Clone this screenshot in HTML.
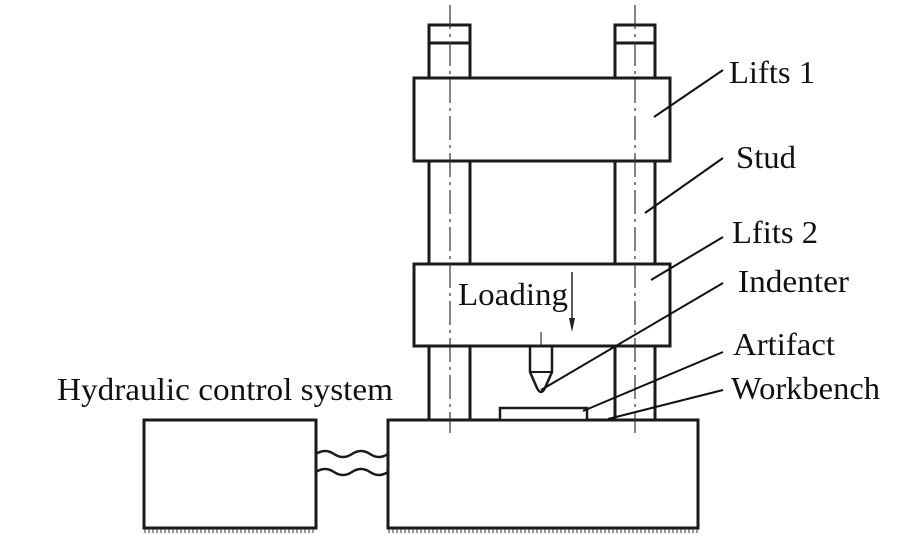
<!DOCTYPE html>
<html><head><meta charset="utf-8"><style>
html,body{margin:0;padding:0;background:#fff}
svg{display:block}
text{font-family:"Liberation Serif",serif;font-size:32px;fill:#111}
</style></head><body>
<svg width="921" height="543" viewBox="0 0 921 543" xmlns="http://www.w3.org/2000/svg">
<defs>
<pattern id="h" width="4" height="6" patternUnits="userSpaceOnUse"><line x1="1" y1="0" x2="1" y2="5" stroke="#333" stroke-width="1"/></pattern>
</defs>
<g fill="none" stroke="#1a1a1a" stroke-width="3">
<rect x="429" y="25" width="41" height="395"/>
<line x1="429" y1="43" x2="470" y2="43"/>
<rect x="615" y="25" width="40" height="395"/>
<line x1="615" y1="43" x2="655" y2="43"/>
<rect x="414" y="78" width="256" height="83" fill="#fff"/>
<rect x="414" y="264" width="256" height="82" fill="#fff"/>
<rect x="388" y="420" width="310" height="108" fill="#fff"/>
<rect x="144" y="420" width="172" height="108" fill="#fff"/>
<rect x="500" y="408" width="87" height="12" fill="#fff" stroke-width="2.5"/>
<path d="M530 346 V372 L537 388 Q541 396 545 388 L552 372 V346" stroke-width="2.5"/>
<line x1="530" y1="372" x2="552" y2="372" stroke-width="2"/>
<path d="M316 454 q9 -6 18 0 t18 0 t18 0 t18 0" stroke-width="2.5"/>
<path d="M316 472 q9 -6 18 0 t18 0 t18 0 t18 0" stroke-width="2.5"/>
</g>
<g stroke="#333" stroke-width="1.2" stroke-dasharray="24 5 3 5">
<line x1="450" y1="5" x2="450" y2="433"/>
<line x1="635" y1="5" x2="635" y2="433"/>
<line x1="541" y1="332" x2="541" y2="346"/>
</g>
<rect x="144" y="529" width="172" height="4" fill="url(#h)"/>
<rect x="388" y="529" width="310" height="4" fill="url(#h)"/>
<line x1="572" y1="272" x2="572" y2="326" stroke="#222" stroke-width="1.5"/>
<path d="M569 318 L572 332 L575 318 Z" fill="#222"/>
<g stroke="#111" stroke-width="2">
<line x1="654" y1="117" x2="723" y2="70"/>
<line x1="645" y1="213" x2="723" y2="158"/>
<line x1="651" y1="280" x2="723" y2="237"/>
<line x1="541" y1="390" x2="723" y2="283"/>
<line x1="583" y1="411" x2="723" y2="352"/>
<line x1="608" y1="419" x2="723" y2="390"/>
</g>
<text x="729" y="83" textLength="86" lengthAdjust="spacingAndGlyphs">Lifts 1</text>
<text x="736" y="168" textLength="60" lengthAdjust="spacingAndGlyphs">Stud</text>
<text x="732" y="243" textLength="86" lengthAdjust="spacingAndGlyphs">Lfits 2</text>
<text x="738" y="292" textLength="111" lengthAdjust="spacingAndGlyphs">Indenter</text>
<text x="733" y="355" textLength="102" lengthAdjust="spacingAndGlyphs">Artifact</text>
<text x="731" y="399" textLength="149" lengthAdjust="spacingAndGlyphs">Workbench</text>
<text x="458" y="305" textLength="110" lengthAdjust="spacingAndGlyphs">Loading</text>
<text x="57" y="400" textLength="336" lengthAdjust="spacingAndGlyphs">Hydraulic control system</text>
</svg>
</body></html>
